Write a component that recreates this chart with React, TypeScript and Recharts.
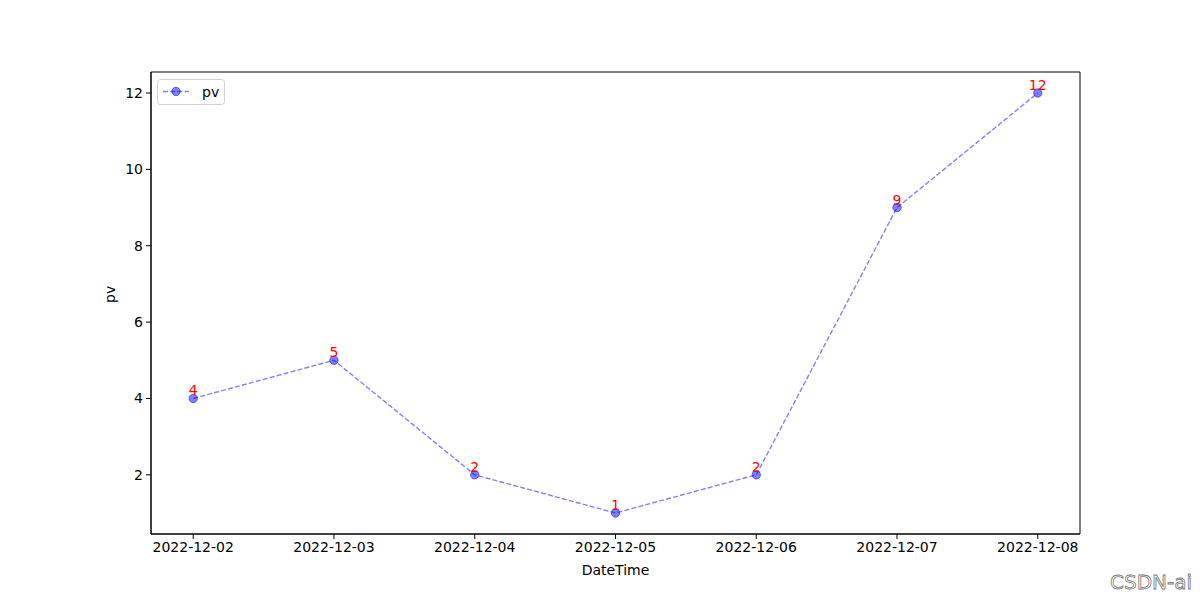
import React from "react";
import { LineChart, Line, XAxis, YAxis, Legend, LabelList, ReferenceArea } from "recharts";

const dates = ["2022-12-02", "2022-12-03", "2022-12-04", "2022-12-05", "2022-12-06", "2022-12-07", "2022-12-08"];
const pv = [4, 5, 2, 1, 2, 9, 12];
const yTicks = [2, 4, 6, 8, 10, 12];

const data = dates.map((d, i) => ({ idx: i, date: d, pv: pv[i] }));

const FONT = "'DejaVu Sans', sans-serif";
const BLUE = "rgba(0,0,255,0.5)";
const X_DOMAIN: [number, number] = [-0.3, 6.3];
const Y_DOMAIN: [number, number] = [0.45, 12.55];

function PointLabel(props: any) {
  const { x, y, value } = props;
  return (
    <text x={x} y={y - 3} textAnchor="middle" fill="red" fontSize={14} fontFamily={FONT}>
      {value}
    </text>
  );
}

function LegendBox() {
  return (
    <svg width={68} height={26} style={{ display: "block" }}>
      <rect x={0.5} y={0.5} width={67} height={25} rx={3} fill="white" stroke="#d0d0d0" />
      <line x1={6} y1={12.5} x2={32} y2={12.5} stroke={BLUE} strokeWidth={1.4} strokeDasharray="5 2.2" />
      <circle cx={19} cy={12.5} r={4.2} fill={BLUE} stroke={BLUE} strokeWidth={1} />
      <text x={45} y={17.5} fontSize={14} fontFamily={FONT} fill="#000">pv</text>
    </svg>
  );
}

export default function App() {
  return (
    <div style={{ position: "absolute", left: 0, top: 0, width: 1200, height: 600, background: "#fff" }}>
      <LineChart width={1200} height={600} data={data} margin={{ top: 72, right: 120, bottom: 0, left: 0 }}>
        <XAxis
          dataKey="idx"
          type="number"
          domain={X_DOMAIN}
          ticks={[0, 1, 2, 3, 4, 5, 6]}
          tickFormatter={(v: number) => dates[v]}
          height={66}
          stroke="#000"
          tickSize={5}
          tickMargin={3}
          tick={{ fill: "#000", fontSize: 14, fontFamily: FONT }}
          label={{ value: "DateTime", position: "insideBottom", offset: 25, fill: "#000", fontSize: 14, fontFamily: FONT }}
        />
        <YAxis
          type="number"
          domain={Y_DOMAIN}
          ticks={yTicks}
          width={151}
          stroke="#000"
          tickSize={5}
          tickMargin={3}
          tick={{ fill: "#000", fontSize: 14, fontFamily: FONT }}
          label={{ value: "pv", angle: -90, position: "insideLeft", offset: 110, fill: "#000", fontSize: 14, fontFamily: FONT }}
        />
        <ReferenceArea
          x1={X_DOMAIN[0]}
          x2={X_DOMAIN[1]}
          y1={Y_DOMAIN[0]}
          y2={Y_DOMAIN[1]}
          fill="none"
          stroke="#000"
          strokeWidth={1}
          ifOverflow="visible"
        />
        <Legend
          layout="horizontal"
          verticalAlign="middle"
          align="center"
          wrapperStyle={{ position: "absolute", left: 157, top: 79, width: 68, height: 26 }}
          content={() => <LegendBox />}
        />
        <Line
          type="linear"
          dataKey="pv"
          stroke={BLUE}
          strokeWidth={1.4}
          strokeDasharray="5 2.2"
          dot={{ r: 4.2, fill: BLUE, stroke: BLUE, strokeWidth: 1, strokeDasharray: "" }}
          isAnimationActive={false}
        >
          <LabelList dataKey="pv" content={<PointLabel />} />
        </Line>
      </LineChart>
      <div
        style={{
          position: "absolute",
          left: 1110,
          top: 570,
          fontFamily: "'DejaVu Sans', sans-serif",
          fontSize: 20,
          color: "#fff",
          WebkitTextStroke: "0.8px #777",
        }}
      >
        CSDN-ai
      </div>
    </div>
  );
}
